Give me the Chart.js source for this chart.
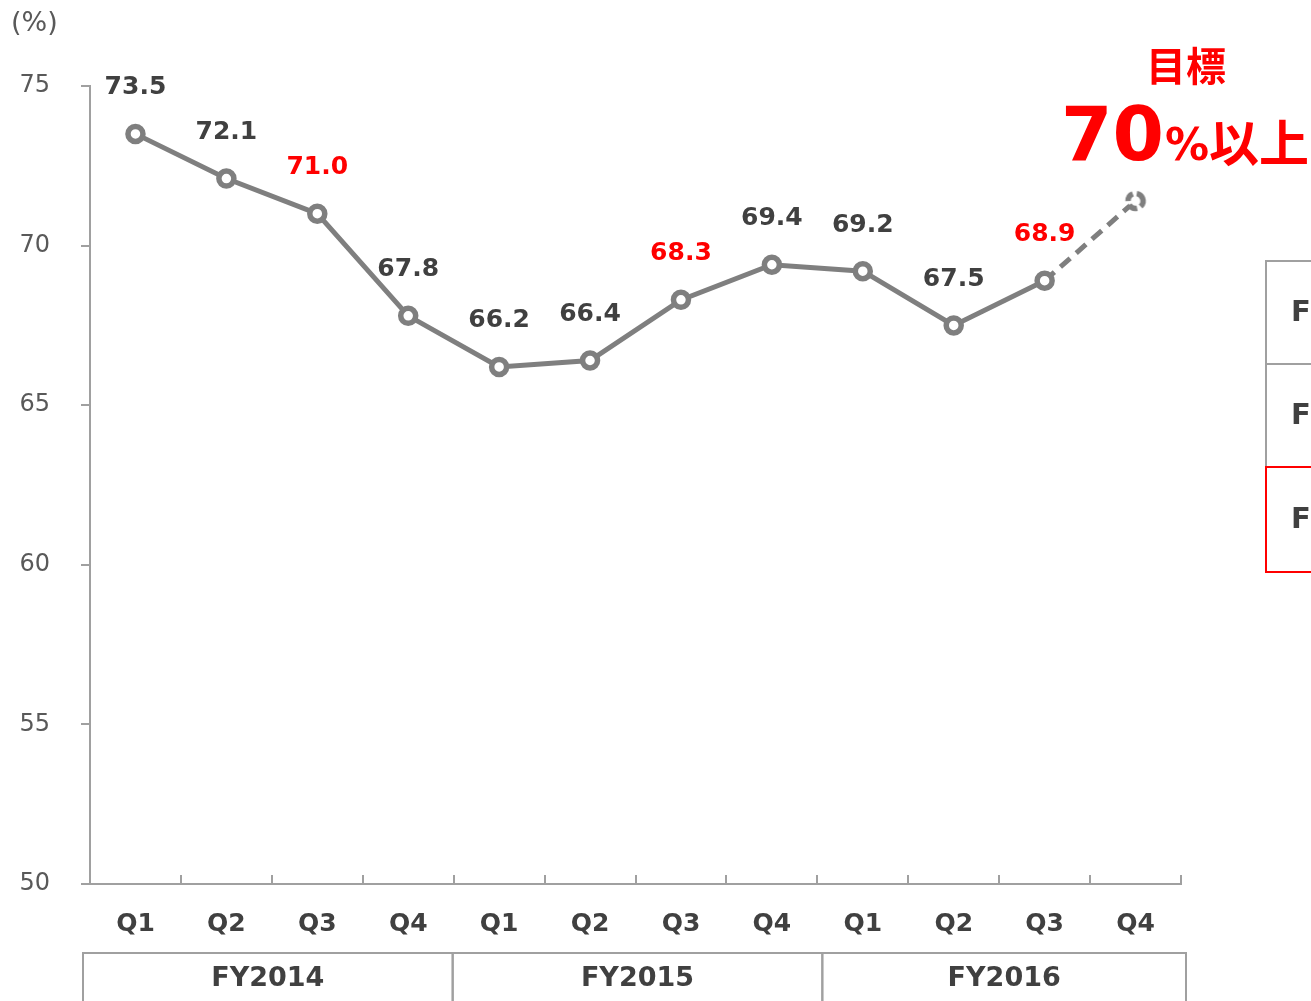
<!DOCTYPE html>
<html>
<head>
<meta charset="utf-8">
<script src="https://cdn.jsdelivr.net/npm/chart.js@4/dist/chart.umd.min.js"></script>
<style>
html,body{margin:0;padding:0;background:#fff;overflow:hidden;}
canvas{display:block;}
</style>
</head>
<body>
<canvas id="c" width="1311" height="1001"></canvas>
<script>
const quarters = ['Q1','Q2','Q3','Q4','Q1','Q2','Q3','Q4','Q1','Q2','Q3','Q4'];
const fiscalYears = ['FY2014','FY2015','FY2016'];
const ratio = [73.5, 72.1, 71.0, 67.8, 66.2, 66.4, 68.3, 69.4, 69.2, 67.5, 68.9, 71.4];
const valueLabels = ['73.5','72.1','71.0','67.8','66.2','66.4','68.3','69.4','69.2','67.5','68.9',''];
const highlightIdx = [2, 6, 10];
const targetIdx = 11;
const yTicks = [50, 55, 60, 65, 70, 75];
const targetTitle = '目標';
const targetValue = '70';
const targetPct = '%';
const targetSuffix = '以上';
const unitLabel = '(%)';
const sideRows = ['F','F','F'];

const DARK = '#404040';
const AXIS = '#a0a0a0';
const LINE = '#7f7f7f';
const RED = '#ff0000';
const LAT = '"DejaVu Sans", Verdana, sans-serif';
const CJK = '"Noto Sans CJK JP", sans-serif';

// dashed point style for target
const dashPt = document.createElement('canvas');
dashPt.width = 26; dashPt.height = 26;
(function(){
  const g = dashPt.getContext('2d');
  g.beginPath(); g.arc(13,13,7.5,0,Math.PI*2); g.fillStyle='#fff'; g.fill();
  g.setLineDash([9,4]); g.lineWidth = 5.5; g.strokeStyle = LINE;
  g.beginPath(); g.arc(13,13,7.5,-0.4,Math.PI*2-0.4); g.stroke();
})();

const deco = {
  id: 'deco',
  afterDatasetsDraw(chart) {
    const ctx = chart.ctx;
    const meta = chart.getDatasetMeta(0);
    ctx.save();
    ctx.font = 'bold 25px ' + LAT;
    ctx.textAlign = 'center';
    ctx.textBaseline = 'middle';
    meta.data.forEach((pt, i) => {
      if (!valueLabels[i]) return;
      ctx.fillStyle = highlightIdx.includes(i) ? RED : DARK;
      ctx.fillText(valueLabels[i], pt.x, pt.y - 46);
    });
    ctx.restore();
  },
  afterDraw(chart) {
    const ctx = chart.ctx;
    const xs = chart.scales.x;
    const ca = chart.chartArea;
    const n = quarters.length;
    const step = (xs.right - xs.left) / n;
    ctx.save();
    // inward x tick marks
    ctx.strokeStyle = AXIS; ctx.lineWidth = 2;
    for (let i = 0; i <= n; i++) {
      const x = Math.round(xs.left + i * step);
      ctx.beginPath(); ctx.moveTo(x, ca.bottom); ctx.lineTo(x, ca.bottom - 9); ctx.stroke();
    }
    // fiscal year boxes
    const boxTop = ca.bottom + 69;
    const edgeShift = [-7, -1, 5, 5];
    ctx.font = 'bold 27px ' + LAT;
    ctx.textAlign = 'center'; ctx.textBaseline = 'middle';
    fiscalYears.forEach((fy, g) => {
      const x0 = xs.left + g * 4 * step + edgeShift[g];
      const x1 = xs.left + (g + 1) * 4 * step + edgeShift[g + 1];
      ctx.strokeStyle = AXIS; ctx.lineWidth = 2;
      ctx.beginPath();
      ctx.moveTo(x0, chart.height + 5); ctx.lineTo(x0, boxTop); ctx.lineTo(x1, boxTop); ctx.lineTo(x1, chart.height + 5);
      ctx.stroke();
      ctx.fillStyle = DARK;
      ctx.fillText(fy, (x0 + x1) / 2, boxTop + 26);
    });
    // unit label
    ctx.font = '27px ' + LAT;
    ctx.fillStyle = '#595959';
    ctx.textAlign = 'left';
    ctx.fillText(unitLabel, 11, 24);
    // target annotation
    ctx.fillStyle = RED;
    ctx.textAlign = 'center';
    ctx.font = 'bold 40px ' + CJK;
    ctx.fillText(targetTitle, 1186, 66);
    ctx.textAlign = 'left'; ctx.textBaseline = 'alphabetic';
    let x = 1061;
    ctx.font = 'bold 74px ' + LAT;
    ctx.fillText(targetValue, x, 160); x += ctx.measureText(targetValue).width + 1;
    ctx.font = 'bold 44px ' + LAT;
    ctx.fillText(targetPct, x, 160); x += ctx.measureText(targetPct).width;
    ctx.font = 'bold 50px ' + CJK;
    ctx.fillText(targetSuffix, x, 162);
    // side table (cut off)
    const rowTops = [261, 364, 467, 572];
    ctx.lineWidth = 2;
    ctx.strokeStyle = AXIS;
    ctx.beginPath();
    ctx.moveTo(1320, rowTops[0]); ctx.lineTo(1266, rowTops[0]); ctx.lineTo(1266, rowTops[2]);
    ctx.moveTo(1266, rowTops[1]); ctx.lineTo(1320, rowTops[1]);
    ctx.stroke();
    ctx.strokeStyle = RED;
    ctx.beginPath();
    ctx.moveTo(1320, rowTops[2]); ctx.lineTo(1266, rowTops[2]); ctx.lineTo(1266, rowTops[3]); ctx.lineTo(1320, rowTops[3]);
    ctx.stroke();
    ctx.font = 'bold 29px ' + LAT;
    ctx.fillStyle = DARK;
    ctx.textBaseline = 'middle';
    sideRows.forEach((t, i) => ctx.fillText(t, 1291, (rowTops[i] + rowTops[i + 1]) / 2 + 1));
    ctx.restore();
  }
};

new Chart(document.getElementById('c'), {
  type: 'line',
  data: {
    labels: quarters,
    datasets: [{
      data: ratio,
      borderColor: LINE,
      borderWidth: 5,
      pointRadius: 7.5,
      pointBorderWidth: 5.5,
      pointBackgroundColor: '#fff',
      pointBorderColor: LINE,
      pointStyle: c => c.dataIndex === targetIdx ? dashPt : 'circle',
      tension: 0,
      segment: {
        borderDash: c => c.p1DataIndex === targetIdx ? [13, 8] : undefined
      },
      clip: false
    }]
  },
  options: {
    responsive: false,
    animation: false,
    events: [],
    layout: { padding: { top: 86, right: 130, left: 0, bottom: 0 } },
    plugins: { legend: { display: false }, tooltip: { enabled: false } },
    scales: {
      x: {
        offset: true,
        grid: { display: true, drawOnChartArea: false, drawTicks: false, offset: true },
        border: { display: true, color: AXIS, width: 2 },
        ticks: { color: DARK, font: { family: LAT, size: 25, weight: 'bold' }, padding: 25, maxRotation: 0 },
        afterFit: s => { s.height = 117; }
      },
      y: {
        min: 50, max: 75,
        afterBuildTicks: s => { s.ticks = yTicks.map(v => ({ value: v })); },
        grid: { drawOnChartArea: false, drawTicks: true, tickLength: 9, color: AXIS, lineWidth: 2 },
        border: { display: true, color: AXIS, width: 2 },
        ticks: { color: '#595959', font: { family: LAT, size: 24 }, padding: 31 },
        afterFit: s => { s.width = 90; }
      }
    }
  },
  plugins: [deco]
});
</script>
</body>
</html>
